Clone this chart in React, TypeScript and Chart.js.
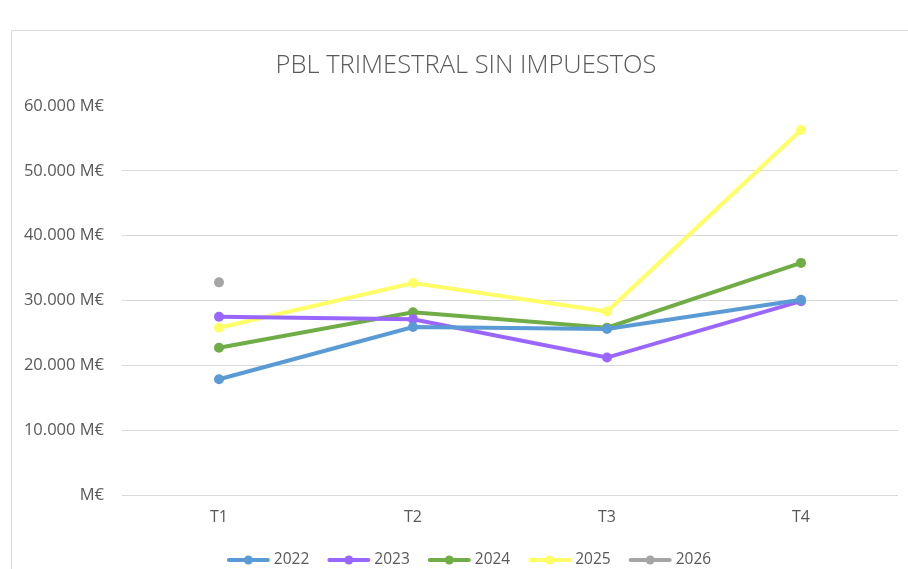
import React, { useEffect, useRef } from "react";
import { Chart, registerables } from "chart.js";

Chart.register(...registerables);

const categories = ["T1", "T2", "T3", "T4"];
const years = ["2022", "2023", "2024", "2025", "2026"];
const v2022 = [17850, 25900, 25600, 30100];
const v2023 = [27500, 27100, 21200, 29900];
const v2024 = [22700, 28200, 25800, 35800];
const v2025 = [25800, 32700, 28300, 56300];
const v2026: (number | null)[] = [32800, null, null, null];
const colors = ["#5B9BD5", "#9966FF", "#70AD47", "#FFFF66", "#A5A5A5"];
const titleText = "PBL TRIMESTRAL SIN IMPUESTOS";
const yMax = 60000;
const yStep = 10000;

const FONT = "'Open Sans', sans-serif";
const TEXT = "#595959";

function fmt(v: number): string {
  if (v === 0) return "M€";
  const s = Math.round(v).toString().replace(/\B(?=(\d{3})+(?!\d))/g, ".");
  return s + " M€";
}

const decorPlugin = {
  id: "decor",
  beforeDraw(chart: any) {
    const ctx = chart.ctx as CanvasRenderingContext2D;
    ctx.save();
    ctx.strokeStyle = "#D9D9D9";
    ctx.lineWidth = 1;
    ctx.beginPath();
    ctx.moveTo(11.5, 569);
    ctx.lineTo(11.5, 30.5);
    ctx.lineTo(908, 30.5);
    ctx.stroke();
    ctx.restore();
  },
  afterDraw(chart: any) {
    const ctx = chart.ctx as CanvasRenderingContext2D;
    ctx.save();
    // title
    ctx.fillStyle = TEXT;
    ctx.font = `300 25.5px ${FONT}`;
    ctx.textAlign = "center";
    ctx.textBaseline = "middle";
    ctx.fillText(titleText, 466, 66);
    // legend
    ctx.font = `15.5px ${FONT}`;
    ctx.textAlign = "left";
    const lineLen = 43;
    const gap = 4;
    const spacing = 18;
    const ds = chart.data.datasets;
    const widths = ds.map((d: any) => lineLen + gap + ctx.measureText(d.label).width);
    const total = widths.reduce((a: number, b: number) => a + b, 0) + spacing * (ds.length - 1);
    let x = 469 - total / 2;
    const y = 560;
    ds.forEach((d: any, i: number) => {
      ctx.strokeStyle = d.borderColor;
      ctx.lineWidth = 4;
      ctx.lineCap = "round";
      ctx.beginPath();
      ctx.moveTo(x + 2, y);
      ctx.lineTo(x + lineLen - 2, y);
      ctx.stroke();
      ctx.fillStyle = d.borderColor;
      ctx.beginPath();
      ctx.arc(x + lineLen / 2, y, 4.5, 0, Math.PI * 2);
      ctx.fill();
      ctx.fillStyle = TEXT;
      ctx.fillText(d.label, x + lineLen + gap, y);
      x += widths[i] + spacing;
    });
    ctx.restore();
  },
};

export default function App() {
  const ref = useRef<HTMLCanvasElement>(null);
  useEffect(() => {
    if (!ref.current) return;
    const series = [v2022, v2023, v2024, v2025, v2026];
    const chart = new Chart(ref.current, {
      type: "line",
      data: {
        labels: categories,
        datasets: series.map((vals, i) => ({
          label: years[i],
          data: vals,
          borderColor: colors[i],
          backgroundColor: colors[i],
          pointBackgroundColor: colors[i],
          pointBorderColor: colors[i],
          borderWidth: 4,
          pointRadius: 5,
          pointBorderWidth: 0,
          tension: 0,
          fill: false,
          spanGaps: false,
        })),
      },
      options: {
        animation: false,
        responsive: false,
        maintainAspectRatio: false,
        layout: { padding: { top: 106, left: 0, right: 10, bottom: 34 } },
        plugins: {
          legend: { display: false },
          title: { display: false },
          tooltip: { enabled: false },
        },
        scales: {
          x: {
            offset: true,
            grid: { display: false, drawTicks: false },
            border: { display: false },
            ticks: { color: TEXT, font: { family: FONT, size: 16 }, padding: 13 },
            afterFit: (s: any) => { s.height = 40; },
          },
          y: {
            min: 0,
            max: yMax,
            border: { display: false },
            grid: {
              drawTicks: false,
              color: (c: any) => (c.tick && c.tick.value === yMax ? "rgba(0,0,0,0)" : "#D9D9D9"),
              lineWidth: 1,
            },
            ticks: {
              stepSize: yStep,
              color: TEXT,
              font: { family: FONT, size: 16.5 },
              padding: 18,
              callback: (v: any) => fmt(Number(v)),
            },
            afterFit: (s: any) => { s.width = 122; },
          },
        },
      },
      plugins: [decorPlugin],
    });
    return () => chart.destroy();
  }, []);
  return (
    <div style={{ position: "fixed", left: 0, top: 0, width: 908, height: 569, background: "#fff" }}>
      <canvas ref={ref} width={908} height={569} style={{ width: 908, height: 569, display: "block" }} />
    </div>
  );
}
